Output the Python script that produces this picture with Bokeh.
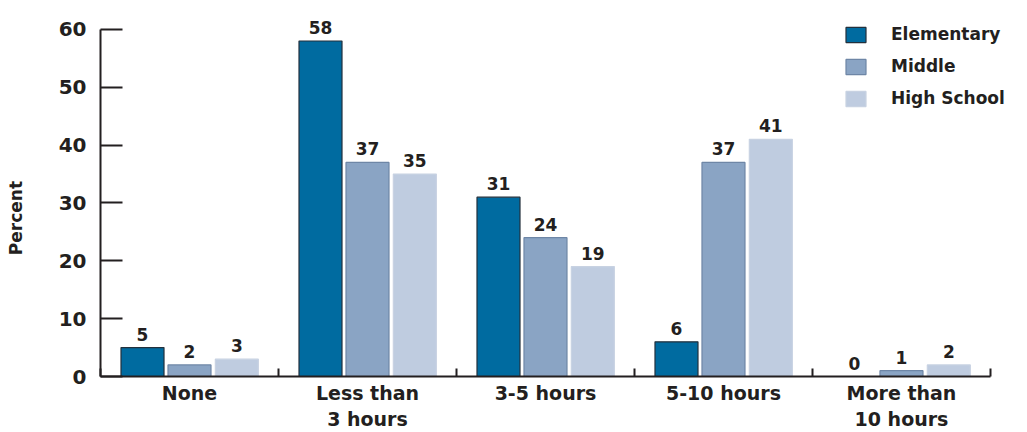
from bokeh.plotting import figure
from bokeh.models import ColumnDataSource, FixedTicker, Legend, LegendItem
from bokeh.core.properties import value
from bokeh.transform import dodge
from bokeh.embed import file_html
from bokeh.resources import INLINE
import numpy as np

categories = ["None", "Less than\n3 hours", "3-5 hours", "5-10 hours", "More than\n10 hours"]
elementary = [5, 58, 31, 6, 0]
middle = [2, 37, 24, 37, 1]
high_school = [3, 35, 19, 41, 2]
series_names = ["Elementary", "Middle", "High School"]
colors = ["#006ba0", "#8aa4c4", "#bfcce0"]
outlines = ["#23303c", "#6e86a6", "#c8d2e2"]
y_ticks = [0, 10, 20, 30, 40, 50, 60]

FONT = "DejaVu Sans"
xc = list(np.arange(len(categories)) + 0.5)
src = ColumnDataSource(dict(
    x=xc, elementary=elementary, middle=middle, high=high_school,
    le=[str(v) for v in elementary], lm=[str(v) for v in middle], lh=[str(v) for v in high_school],
))

p = figure(width=1027, height=432, output_backend="svg", toolbar_location=None,
           x_range=(0, 5.208), y_range=(0, 65.0),
           min_border_left=100, min_border_right=0, min_border_top=0, min_border_bottom=56)
p.outline_line_color = None
p.grid.grid_line_color = None
p.background_fill_color = "white"

renderers = []
offsets = [-0.264, 0.0, 0.266]
fields = ["elementary", "middle", "high"]
lfields = ["le", "lm", "lh"]
for off, f, lf, c, oc in zip(offsets, fields, lfields, colors, outlines):
    r = p.vbar(x=dodge("x", off), top=f, width=0.2416, bottom=0, source=src,
               fill_color=c, line_color=oc, line_width=1.2)
    renderers.append(r)
    p.text(x=dodge("x", off), y=f, text=lf, source=src, y_offset=-7,
           text_align="center", text_baseline="bottom",
           text_font=value(FONT), text_font_size="17px", text_font_style="bold", text_color="#231f20")

# axes
xa = p.xaxis[0]
xa.ticker = FixedTicker(ticks=xc, minor_ticks=[0, 1, 2, 3, 4, 5])
xa.major_label_overrides = {float(x): c for x, c in zip(xc, categories)}
xa.bounds = (0, 5)
xa.major_tick_in = 0
xa.major_tick_out = 0
xa.minor_tick_in = 8
xa.minor_tick_out = 0
xa.minor_tick_line_color = "#231f20"
xa.minor_tick_line_width = 2
xa.axis_line_color = "#231f20"
xa.axis_line_width = 2
xa.major_label_text_font = FONT
xa.major_label_text_font_size = "19px"
xa.major_label_text_font_style = "bold"
xa.major_label_text_color = "#231f20"
xa.major_label_standoff = 5

ya = p.yaxis[0]
ya.ticker = FixedTicker(ticks=y_ticks)
ya.bounds = (0, 60)
ya.major_tick_in = 22
ya.major_tick_out = 0
ya.minor_tick_in = 0
ya.minor_tick_out = 0
ya.major_tick_line_color = "#231f20"
ya.major_tick_line_width = 2
ya.axis_line_color = "#231f20"
ya.axis_line_width = 2
ya.major_label_text_font = FONT
ya.major_label_text_font_size = "20px"
ya.major_label_text_font_style = "bold"
ya.major_label_text_color = "#231f20"
ya.major_label_standoff = 14
ya.axis_label = "Percent" + "\u00a0" * 10
ya.axis_label_text_font = FONT
ya.axis_label_text_font_size = "17px"
ya.axis_label_text_font_style = "bold"
ya.axis_label_text_color = "#231f20"
ya.axis_label_standoff = 30

legend = Legend(items=[LegendItem(label=n, renderers=[r]) for n, r in zip(series_names, renderers)],
                location=(743, 268))
legend.border_line_color = None
legend.background_fill_alpha = 0
legend.padding = 0
legend.margin = 0
legend.spacing = 12
legend.glyph_width = 25
legend.glyph_height = 19
legend.label_height = 20
legend.label_standoff = 23
legend.label_text_font = FONT
legend.label_text_font_size = "17px"
legend.label_text_font_style = "bold"
legend.label_text_color = "#231f20"
p.add_layout(legend)

open("out.html", "w").write(file_html(p, INLINE))
